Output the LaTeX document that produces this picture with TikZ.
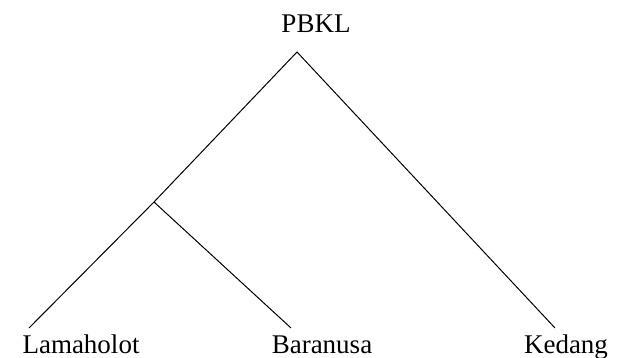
\documentclass[tikz,border=0pt]{standalone}
\usepackage{fontspec}
\setmainfont{Liberation Serif}
\begin{document}
\begin{tikzpicture}[x=1pt,y=-1pt,
  lbl/.style={anchor=base,inner sep=0pt,font=\fontsize{27}{30}\selectfont},
  branch/.style={line width=1pt,black}]
\useasboundingbox (0,0) rectangle (624,358);
% labels
\node[lbl] (root) at (316,33) {PBKL};
\node[lbl] (lam) at (81,353) {Lamaholot};
\node[lbl] (bar) at (322,353) {Baranusa};
\node[lbl] (ked) at (566,353) {Kedang};
% tree joints
\coordinate (top) at (297,52);
\coordinate (mid) at (154,202);
\coordinate (lamEnd) at (29,328);
\coordinate (barEnd) at (291,328);
\coordinate (kedEnd) at (555,328);
% branches
\draw[branch] (lamEnd) -- (mid) -- (top) -- (kedEnd);
\draw[branch] (mid) -- (barEnd);
\end{tikzpicture}
\end{document}
